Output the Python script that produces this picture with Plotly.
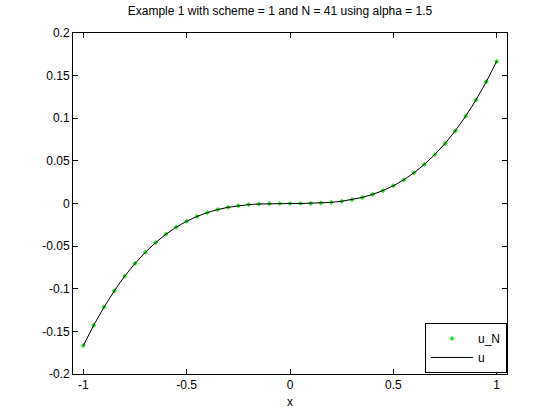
import plotly.graph_objects as go

x_vals = [-1.0, -0.95, -0.9, -0.85, -0.8, -0.75, -0.7, -0.65, -0.6, -0.55, -0.5,
          -0.45, -0.4, -0.35, -0.3, -0.25, -0.2, -0.15, -0.1, -0.05, 0.0,
          0.05, 0.1, 0.15, 0.2, 0.25, 0.3, 0.35, 0.4, 0.45, 0.5,
          0.55, 0.6, 0.65, 0.7, 0.75, 0.8, 0.85, 0.9, 0.95, 1.0]

u_pos = [0.0, 0.0000, 0.0002, 0.0006, 0.0013, 0.0026, 0.0045, 0.0071, 0.0107, 0.0152, 0.0208,
         0.0277, 0.0360, 0.0458, 0.0572, 0.0703, 0.0853, 0.1024, 0.1215, 0.1429, 0.1667]

# numerical solution u_N and exact u (odd symmetry)
u_N = [-v for v in u_pos[:0:-1]] + u_pos
u_exact = list(u_N)

xtick_vals = [-1, -0.5, 0, 0.5, 1]
xtick_text = ["-1", "-0.5", "0", "0.5", "1"]
ytick_vals = [-0.2, -0.15, -0.1, -0.05, 0, 0.05, 0.1, 0.15, 0.2]
ytick_text = ["-0.2", "-0.15", "-0.1", "-0.05", "0", "0.05", "0.1", "0.15", "0.2"]

font = dict(family="Liberation Sans, Arial", size=12, color="black")

fig = go.Figure()
fig.add_trace(go.Scatter(x=x_vals, y=u_N, mode="markers", name="u_N",
                         marker=dict(color="#33dd33", size=4, symbol="diamond")))
fig.add_trace(go.Scatter(x=x_vals, y=u_exact, mode="lines", name="u",
                         line=dict(color="black", width=1)))

axis_common = dict(showgrid=False, zeroline=False, showline=True, linecolor="black",
                   linewidth=1, mirror="ticks", ticks="inside", ticklen=5,
                   tickcolor="black", tickfont=font)

fig.update_layout(
    width=560, height=420,
    margin=dict(l=73, r=53, t=33, b=46),
    paper_bgcolor="white", plot_bgcolor="white",
    title=dict(text="Example 1 with scheme = 1 and N = 41 using alpha = 1.5",
               x=0.5, xanchor="center", y=0.975, yanchor="middle", font=font),
    xaxis=dict(range=[-1.05, 1.05], tickvals=xtick_vals, ticktext=xtick_text,
               title=dict(text="x", standoff=6, font=font), **axis_common),
    yaxis=dict(range=[-0.2, 0.2], tickvals=ytick_vals, ticktext=ytick_text, **axis_common),
    showlegend=True,
    legend=dict(x=1.0, y=0.003, xanchor="right", yanchor="bottom",
                bgcolor="white", bordercolor="black", borderwidth=1,
                font=font, tracegroupgap=0, itemwidth=42),
)

fig.write_html("out.html", config={"displayModeBar": False},
               post_script="document.body.style.margin='0';")
